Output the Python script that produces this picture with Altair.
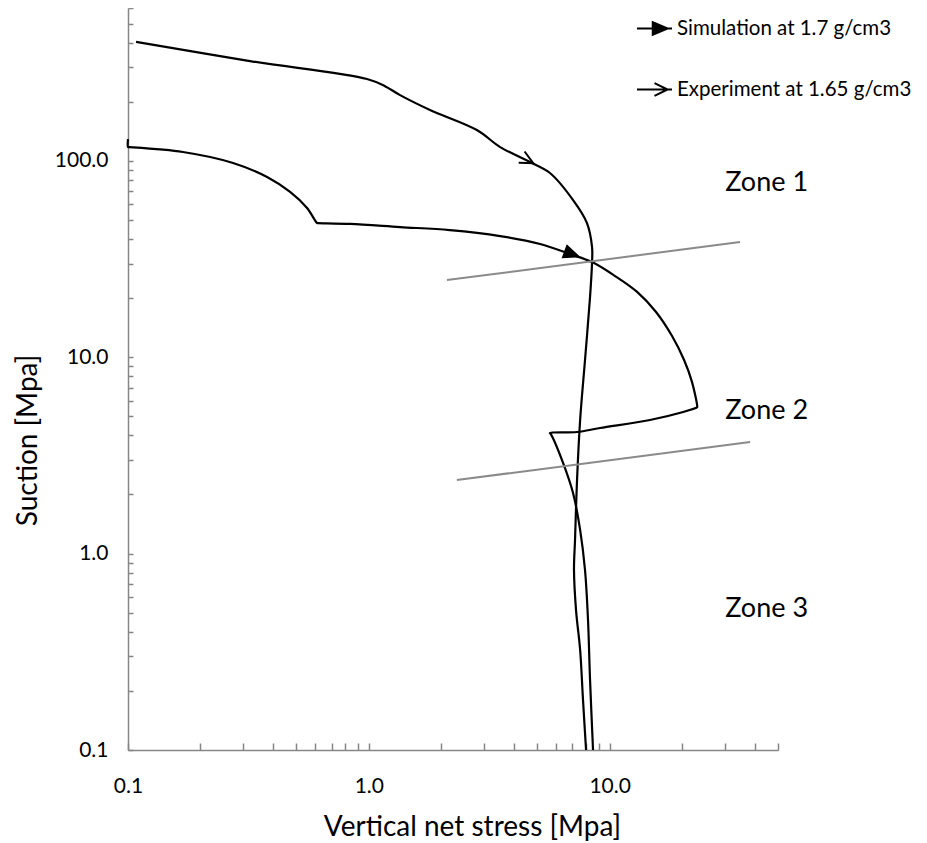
import altair as alt
import pandas as pd

# ---- data ----
# Experiment at 1.65 g/cm3 (upper curve)
exp_stress = [0.108, 0.321, 0.983, 1.167, 1.348, 1.795, 2.81, 3.51, 4.67, 5.65, 7.05, 8.05,
              8.45, 8.45, 8.29, 7.9, 7.54, 7.32, 7.18, 7.11, 7.25, 7.54, 7.75, 7.98]
exp_suction = [403, 322, 261, 240, 216, 181.5, 143.5, 117.5, 98.6, 86.7, 63.1, 48.2,
               36.4, 30.5, 20.3, 9.68, 4.79, 2.37, 1.17, 0.825, 0.516, 0.323, 0.180, 0.1]

# Simulation at 1.7 g/cm3 (lower curve)
sim_stress = [0.1, 0.1, 0.101, 0.169, 0.273, 0.378, 0.471, 0.554, 0.610, 0.616, 0.836, 1.348,
              2.17, 3.51, 5.14, 6.85, 8.45, 10.53, 13.0, 15.58, 18.16, 20.37, 21.98,
              23.1, 23.05, 20.2, 14.7, 9.12, 7.32, 5.65, 5.69, 6.41, 7.05, 7.54, 7.9,
              8.13, 8.29, 8.53]
sim_suction = [129, 117.5, 117.4, 110.9, 97.5, 82.7, 69.4, 57.5, 48.2, 48.15, 47.7, 46.0,
               44.4, 41.4, 37.7, 33.5, 30.5, 25.9, 21.5, 17.0, 12.82, 9.68, 7.47,
               5.58, 5.55, 5.26, 4.79, 4.36, 4.16, 4.11, 4.07, 2.89, 2.03, 1.32, 0.825,
               0.459, 0.227, 0.1]

# Zone boundary lines
zone_line_id = ["A", "A", "B", "B"]
zone_line_stress = [2.11, 34.8, 2.32, 38.3]
zone_line_suction = [24.7, 38.6, 2.37, 3.70]

# Zone labels
zone_names = ["Zone 1", "Zone 2", "Zone 3"]
zone_stress = [30.2, 30.2, 30.2]
zone_suction = [70.2, 4.85, 0.475]

# Direction markers on the curves
series_names = ["Simulation at 1.7 g/cm3", "Experiment at 1.65 g/cm3"]
marker_stress = [6.62, 4.31]
marker_suction = [34.3, 104.5]
marker_angle = [20, 28]

# Axis ticks
x_major = [0.1, 1, 10]
y_major = [0.1, 1, 10, 100]
x_minor = [0.1, 0.2, 0.3, 0.4, 0.5, 0.6, 0.7, 0.8, 0.9,
           1, 2, 3, 4, 5, 6, 7, 8, 9, 10, 20, 30, 40, 50]
y_minor = [0.1, 0.2, 0.3, 0.4, 0.5, 0.6, 0.7, 0.8, 0.9,
           1, 2, 3, 4, 5, 6, 7, 8, 9,
           10, 20, 30, 40, 50, 60, 70, 80, 90,
           100, 200, 300, 400, 500, 600]

# ---- tables ----
curves = pd.concat([
    pd.DataFrame({"series": series_names[1], "idx": range(len(exp_stress)),
                  "stress": exp_stress, "suction": exp_suction}),
    pd.DataFrame({"series": series_names[0], "idx": range(len(sim_stress)),
                  "stress": sim_stress, "suction": sim_suction}),
])
zlines = pd.DataFrame({"line": zone_line_id, "stress": zone_line_stress, "suction": zone_line_suction})
zlabels = pd.DataFrame({"name": zone_names, "stress": zone_stress, "suction": zone_suction})
markers = pd.DataFrame({"series": series_names, "stress": marker_stress,
                        "suction": marker_suction, "angle": marker_angle})

FONT = "Lato"
GRAY = "#868686"
W, H = 650, 742

x_scale = alt.Scale(type="log", domain=[0.1, 50], nice=False)
y_scale = alt.Scale(type="log", domain=[0.1, 600], nice=False)

x_main = alt.Axis(orient="bottom", values=x_major, format=".1f", ticks=False, tickSize=0,
                  domainColor=GRAY, domainWidth=1.5, grid=False,
                  labelFont=FONT, labelFontSize=21, labelColor="black", labelPadding=25,
                  labelFlush=False, labelOverlap=False,
                  title="Vertical net stress [Mpa]", titleFont=FONT, titleFontSize=28,
                  titleFontWeight="normal", titleColor="black", titleX=344, titleY=85,
                  titleAlign="center", titleBaseline="alphabetic")
y_main = alt.Axis(orient="left", values=y_major, format=".1f", ticks=False, tickSize=0,
                  domainColor=GRAY, domainWidth=1.5, grid=False,
                  labelFont=FONT, labelFontSize=21, labelColor="black", labelPadding=20,
                  labelFlush=False, labelOverlap=False,
                  title="Suction [Mpa]", titleFont=FONT, titleFontSize=28,
                  titleFontWeight="normal", titleColor="black", titleX=-92, titleY=432,
                  titleAngle=270, titleAlign="center", titleBaseline="alphabetic")
x_ticks = alt.Axis(orient="top", offset=-H, values=x_minor, labels=False, domain=False,
                   ticks=True, tickSize=7, tickColor=GRAY, tickWidth=1.5, grid=False, title="")
y_ticks = alt.Axis(orient="right", offset=-W, values=y_minor, labels=False, domain=False,
                   ticks=True, tickSize=5, tickColor=GRAY, tickWidth=1.5, grid=False, title="")

curve_layer = alt.Chart(curves).mark_line(
    color="black", strokeWidth=2.2, interpolate="catmull-rom"
).encode(
    x=alt.X("stress:Q", scale=x_scale, axis=x_main),
    y=alt.Y("suction:Q", scale=y_scale, axis=y_main),
    detail="series:N",
    order=alt.Order("idx:Q"),
)

zone_line_layer = alt.Chart(zlines).mark_line(color="#8a8a8a", strokeWidth=2).encode(
    x=alt.X("stress:Q", scale=x_scale, axis=x_ticks),
    y=alt.Y("suction:Q", scale=y_scale, axis=y_ticks),
    detail="line:N",
)

zone_text_layer = alt.Chart(zlabels).mark_text(
    align="left", baseline="alphabetic", font=FONT, fontSize=27, color="black"
).encode(
    x=alt.X("stress:Q", scale=x_scale, axis=None),
    y=alt.Y("suction:Q", scale=y_scale, axis=None),
    text="name:N",
)

# arrow heads drawn on the curves
sim_head = "M-0.1,-0.36L0.75,0L-0.1,0.36Z"
exp_head = "M0,-0.36L0.75,0L0,0.36"
sim_head_layer = alt.Chart(markers).transform_filter(
    alt.datum.series == series_names[0]
).mark_point(shape=sim_head, size=1225, filled=True, fill="black", stroke="black",
             strokeWidth=1.5, opacity=1).encode(
    x=alt.X("stress:Q", scale=x_scale, axis=None),
    y=alt.Y("suction:Q", scale=y_scale, axis=None),
    angle=alt.Angle("angle:Q", scale=None),
)
exp_head_layer = alt.Chart(markers).transform_filter(
    alt.datum.series == series_names[1]
).mark_point(shape=exp_head, size=1225, filled=False, stroke="black",
             strokeWidth=2, opacity=1).encode(
    x=alt.X("stress:Q", scale=x_scale, axis=None),
    y=alt.Y("suction:Q", scale=y_scale, axis=None),
    angle=alt.Angle("angle:Q", scale=None),
)

# legend (symbols: line with arrow head)
sim_sym = "M-1,0L1,0M-0.1,-0.36L0.75,0L-0.1,0.36Z"
exp_sym = "M-1,0L1,0M0,-0.36L0.75,0L0,0.36"
leg = alt.Legend(title=None, orient="none", legendX=508, legendY=2,
                 direction="vertical", padding=0, rowPadding=32,
                 symbolSize=1225, symbolStrokeWidth=2, symbolOpacity=1, labelOffset=4,
                 labelFont=FONT, labelFontSize=20.5, labelColor="black", labelLimit=400)
legend_layer = alt.Chart(markers).mark_point(size=1225, opacity=0).encode(
    x=alt.X("stress:Q", scale=x_scale, axis=None),
    y=alt.Y("suction:Q", scale=y_scale, axis=None),
    shape=alt.Shape("series:N", scale=alt.Scale(domain=series_names, range=[sim_sym, exp_sym]),
                    legend=leg),
    fill=alt.Fill("series:N", scale=alt.Scale(domain=series_names, range=["black", "transparent"]),
                  legend=leg),
    stroke=alt.Stroke("series:N", scale=alt.Scale(domain=series_names, range=["black", "black"]),
                      legend=leg),
)

chart = alt.layer(
    curve_layer, zone_line_layer, zone_text_layer, sim_head_layer, exp_head_layer, legend_layer
).resolve_axis(
    x="independent", y="independent"
).properties(
    width=W, height=H,
    autosize=alt.AutoSizeParams(type="none"),
    padding={"left": 120, "top": 0, "right": 141, "bottom": 92},
    background="white",
).configure_view(stroke="transparent")

chart.save("out.html", embed_options={"renderer": "svg", "actions": False})
